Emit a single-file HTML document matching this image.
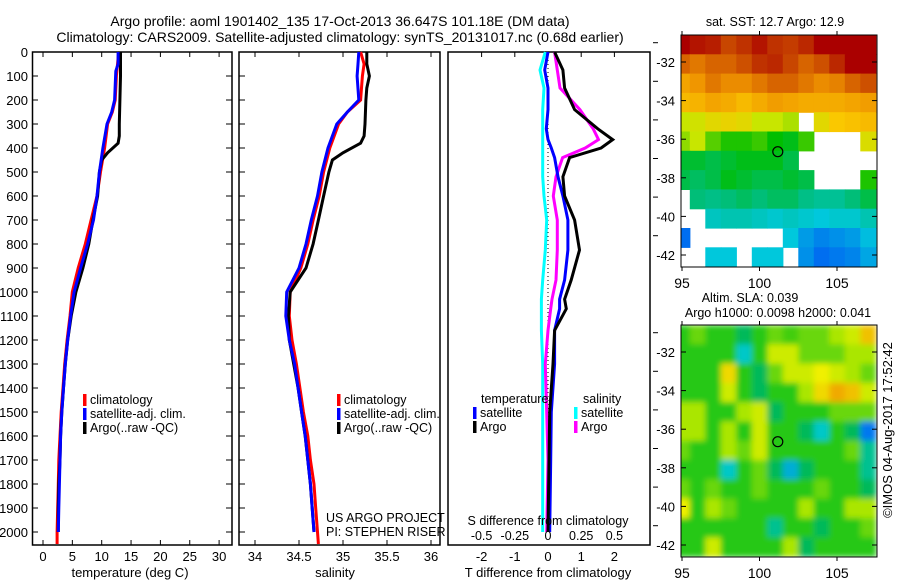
<!DOCTYPE html>
<html><head><meta charset="utf-8">
<style>
html,body{margin:0;padding:0;background:#fff;}
svg{display:block;font-family:"Liberation Sans",sans-serif;}
text{fill:#000;}
</style></head>
<body>
<svg id="fig" width="900" height="580" viewBox="0 0 900 580" xmlns="http://www.w3.org/2000/svg">
<text x="340" y="26" font-size="14" text-anchor="middle">Argo profile: aoml 1901402_135 17-Oct-2013 36.647S 101.18E (DM data)</text>
<text x="340" y="42" font-size="14" text-anchor="middle">Climatology: CARS2009. Satellite-adjusted climatology: synTS_20131017.nc (0.68d earlier)</text>
<g id="p1"></g>
<g id="p2"></g>
<g id="p3"></g>
<g id="m1"></g>
<g id="m2"></g>
<text transform="translate(892,430) rotate(-90)" font-size="13" text-anchor="middle">©IMOS 04-Aug-2017 17:52:42</text>
</svg>
<script>
// ---- profile data ----
const tDepth   = [0,100,200,300,350,380,420,450,500,600,700,800,900,1000,1100,1200,1300,1400,1500,1600,1700,1800,1900,2000];
const tArgo    = [13.2,13.2,13.1,13.0,13.0,12.8,11.0,10.0,9.6,9.3,8.5,7.8,6.8,5.6,4.8,4.2,3.8,3.5,3.2,3.0,2.9,2.7,2.6,2.6];
const cDepth   = [0,100,200,250,300,400,500,600,700,800,900,1000,1100,1200,1300,1400,1500,1600,1700,1800,1900,2000,2050];
const tClim    = [12.9,12.5,12.3,11.8,11.0,10.5,9.8,9.2,8.2,7.2,6.0,5.0,4.6,4.1,3.7,3.4,3.1,2.9,2.7,2.6,2.5,2.4,2.4];
const tSatDepth= [0,50,80,200,250,300,400,500,600,700,800,900,1000,1100,1200,1300,1400,1500,1600,1700,1800,1900,2000];
const tSat     = [12.8,12.8,12.4,12.2,11.7,10.9,10.2,9.6,9.2,8.6,7.6,6.4,5.3,4.7,4.2,3.8,3.5,3.2,3.0,2.9,2.8,2.7,2.6];
const sArgo    = [35.27,35.27,35.30,35.27,35.26,35.25,35.24,35.20,35.00,34.88,34.84,34.78,34.75,34.72,34.66,34.58,34.40,34.38,34.39,34.44,34.49,34.53,34.57,34.60,34.63,34.65,34.67];
const sArgoD   = [0,50,100,150,200,300,350,380,420,450,500,600,650,700,800,900,1000,1100,1200,1300,1400,1500,1600,1700,1800,1900,2000];
const sClim    = [35.20,35.24,35.22,35.20,35.05,34.95,34.85,34.78,34.73,34.66,34.60,34.52,34.40,34.39,34.42,34.47,34.51,34.55,34.60,34.63,34.67,34.69,34.71,34.72];
const sClimD   = [0,50,100,200,250,300,400,500,600,700,800,900,1000,1100,1200,1300,1400,1500,1600,1700,1800,1900,2000,2050];
const sSat     = [35.18,35.17,35.16,35.18,35.05,34.93,34.83,34.76,34.71,34.64,34.58,34.50,34.36,34.35,34.39,34.45,34.49,34.53,34.57,34.60,34.63,34.65,34.67];
const sSatD    = [0,50,100,200,250,300,400,500,600,700,800,900,1000,1100,1200,1300,1400,1500,1600,1700,1800,1900,2000];
// ---- difference data ----
const dDepth   = [0,75,150,240,320,365,400,440,520,600,700,825,950,1030,1070,1160,1300,1500,1700,2000];
const dTArgo   = [0.2,0.45,0.5,0.8,1.5,1.95,1.6,0.65,0.45,0.5,0.8,0.95,0.7,0.5,0.55,0.2,0.15,0.05,0.03,0.0];
const dTSat    = [0,-0.1,0,0,-0.05,0,0.1,0.2,0.3,0.45,0.6,0.6,0.5,0.35,0.35,0.2,0.2,0.1,0.08,0.05];
const dSArgo   = [0.05,0.07,0.09,0.24,0.34,0.38,0.28,0.11,0.06,0.04,0.07,0.07,0.06,0.03,0.02,0,-0.02,-0.01,0,-0.01];
const dSSat    = [-0.02,-0.06,-0.03,-0.04,-0.04,-0.04,-0.04,-0.04,-0.04,-0.03,-0.01,-0.02,-0.04,-0.05,-0.05,-0.05,-0.04,-0.04,-0.04,-0.04];
const depthTicks = [0,100,200,300,400,500,600,700,800,900,1000,1100,1200,1300,1400,1500,1600,1700,1800,1900,2000];
const tTicks = [0,5,10,15,20,25,30];
const sTicks = [34,34.5,35,35.5,36];
const tdTicks = [-2,-1,0,1,2];
const sdTicks = [-0.5,-0.25,0,0.25,0.5];
// ---- map data ----
const mapLons = [95,96,97,98,99,100,101,102,103,104,105,106,107];
const sstGrid = [
[16,15.8,15.7,15.3,15.5,15.8,15.5,15.4,15.6,16,16,16,16],
[15,14.8,15,15,15.2,15.5,15.6,15.3,15,15.2,15.6,16,16],
[14.3,14.5,14.8,14.6,14.6,14.8,15,15,14.8,14.6,14.7,15,15.2],
[14,14.1,14.3,14.2,14,14.2,14.4,14.3,14.2,14.2,14.2,14.3,14.4],
[13.2,13.3,13.5,13.6,13.5,13.2,13.2,13.1,null,13.5,13.8,13.9,14],
[13,13.2,12.8,12.6,12.6,12.7,12.5,12.4,12.7,null,null,null,13.4],
[12.3,12.3,12.2,12.3,12.4,12.4,12.4,12.2,null,null,null,null,null],
[12.2,12.1,12.2,12.4,12.3,12.2,12.2,12.3,12.2,null,null,null,12.6],
[null,12.0,11.9,12.0,12.1,12.0,12.1,12.1,11.9,11.8,11.8,12.0,12.2],
[null,null,11.5,11.6,11.6,11.5,11.4,11.5,11.4,11.3,11.4,11.4,11.6],
[10.4,null,null,null,null,null,null,11.3,10.9,10.7,10.8,10.9,11.2],
[null,null,11.3,11.3,null,11.3,11.3,null,10.8,10.5,10.6,10.7,11.0]];
const slaGrid = [
[0,0.05,0,0,-0.05,0,0.05,0.02,0.05,0.05,0.1,0.15,0.3],
[0,0,0,0,-0.15,0,0.15,0.15,0.05,0.05,0.05,0.1,0.1],
[0,0,0,0.25,0,-0.05,0.05,0.15,0.15,0.2,0.15,0.1,0.05],
[0,0,0,0.15,0,-0.05,0,0,0.1,0.25,0.35,0.3,0.15],
[0.1,0.1,0,0,0.1,0.15,-0.05,0,0,0,0.05,0.05,0.05],
[0.1,0.1,0,0.1,0,0.15,0,0,-0.05,-0.15,0,-0.05,-0.3],
[0.05,0,0,0.1,0.05,0.15,0,0,0,0,0,0.05,-0.1],
[0,0,0,-0.15,0,0.05,-0.05,-0.2,-0.05,0,0,0,-0.1],
[0.05,0,0.05,0,0,0.05,0,0,0,0.05,0,0,-0.05],
[0.2,0,0.1,0.05,0,0,0,0,0.1,0,0,0.1,0.1],
[0,0,0,0,0,0,-0.1,0,0,-0.05,0,0,0.05],
[0,0,0.15,0,0,0,0,0.1,-0.05,0,0,0,0]];
const latTicks = [-32,-34,-36,-38,-40,-42];
const lonTicks = [95,100,105];
const argoLon = 101.18, argoLat = -36.647;

const NS='http://www.w3.org/2000/svg';
function mk(tag, attrs, parent){const e=document.createElementNS(NS,tag);for(const k in attrs)e.setAttribute(k,attrs[k]);parent.appendChild(e);return e;}
function txt(parent,x,y,s,size,anchor){const t=mk('text',{x:x,y:y,'font-size':size,'text-anchor':anchor||'start'},parent);t.textContent=s;return t;}

const Y0=52, YB=545;
const yD = d => Y0 + d*0.24;
function line(parent, xs, ds, xf, color, w){
  const pts = xs.map((v,i)=>xf(v).toFixed(1)+','+yD(ds[i]).toFixed(1)).join(' ');
  return mk('polyline',{points:pts,fill:'none',stroke:color,'stroke-width':w||3,'stroke-linejoin':'miter'},parent);
}
function box(parent,x0,x1){return mk('rect',{x:x0,y:Y0,width:x1-x0,height:YB-Y0,fill:'none',stroke:'#000','stroke-width':1.5},parent);}

// Panel 1
const p1=document.getElementById('p1');
const xT = v => 43 + v*5.87;
box(p1,32.5,232);
depthTicks.forEach(d=>{
  mk('line',{x1:32.5,x2:38,y1:yD(d),y2:yD(d),stroke:'#000'},p1);
  mk('line',{x1:226,x2:232,y1:yD(d),y2:yD(d),stroke:'#000'},p1);
  const t=txt(p1,28,yD(d)+5,String(d),13,'end');
  
  
});
tTicks.forEach(v=>{
  mk('line',{x1:xT(v),x2:xT(v),y1:YB,y2:YB-5,stroke:'#000'},p1);
  mk('line',{x1:xT(v),x2:xT(v),y1:Y0,y2:Y0+5,stroke:'#000'},p1);
  const t=txt(p1,xT(v),561,String(v),13,'middle');
  
  
});
txt(p1,130,577,'temperature (deg C)',13,'middle');
const l1a=line(p1,tClim,cDepth,xT,'#f00');


const l1b=line(p1,tArgo,tDepth,xT,'#000');


const l1c=line(p1,tSat,tSatDepth,xT,'#00f');


function legend(parent,x,y,items){
  items.forEach((it,i)=>{
    const g=mk('g',{},parent);
    
    
    mk('rect',{x:x,y:y+i*14-10,width:3.5,height:12,fill:it[1]},g);
    txt(g,x+7,y+i*14,it[0],12.5);
  });
}
legend(p1,83,404,[['climatology','#f00'],['satellite-adj. clim.','#00f'],['Argo(..raw -QC)','#000']]);

// Panel 2
const p2=document.getElementById('p2');
const xS = v => 255 + (v-34)*88;
box(p2,239,440);
depthTicks.forEach(d=>{mk('line',{x1:239,x2:245,y1:yD(d),y2:yD(d),stroke:'#000'},p2);});
sTicks.forEach(v=>{
  mk('line',{x1:xS(v),x2:xS(v),y1:YB,y2:YB-5,stroke:'#000'},p2);
  mk('line',{x1:xS(v),x2:xS(v),y1:Y0,y2:Y0+5,stroke:'#000'},p2);
  const t=txt(p2,xS(v),561,String(v),13,'middle');
  
  
});
txt(p2,335,577,'salinity',13,'middle');
const l2a=line(p2,sClim,sClimD,xS,'#f00');


const l2b=line(p2,sArgo,sArgoD,xS,'#000');


const l2c=line(p2,sSat,sSatD,xS,'#00f');


legend(p2,337,404,[['climatology','#f00'],['satellite-adj. clim.','#00f'],['Argo(..raw -QC)','#000']]);
txt(p2,326,522,'US ARGO PROJECT',12.5);
txt(p2,326,536,'PI: STEPHEN RISER',12.5);

// Panel 3
const p3=document.getElementById('p3');
const xTd = v => 548 + v*33.2;
const xSd = v => 548 + v*132.8;
box(p3,448,650);
mk('line',{x1:548,x2:548,y1:Y0,y2:yD(2000),stroke:'#000','stroke-dasharray':'1,3'},p3);
tdTicks.forEach(v=>{
  mk('line',{x1:xTd(v),x2:xTd(v),y1:Y0,y2:Y0+5,stroke:'#000'},p3);
  const t=txt(p3,xTd(v),561,String(v),13,'middle');
  
  
});
txt(p3,548,577,'T difference from climatology',13,'middle');
const l3a=line(p3,dSSat,dDepth,xSd,'#0ff');


const l3b=line(p3,dSArgo,dDepth,xSd,'#f0f');


const l3c=line(p3,dTSat,dDepth,xTd,'#00f');


const l3d=line(p3,dTArgo,dDepth,xTd,'#000');


txt(p3,548,525,'S difference from climatology',12.5,'middle');
sdTicks.forEach(v=>{
  const t=txt(p3,xSd(v),540,String(v),12.5,'middle');
  
  
});
txt(p3,481,403,'temperature',12.5);
txt(p3,583,403,'salinity',12.5);
legend(p3,473,417,[['satellite','#00f'],['Argo','#000']]);
legend(p3,574,417,[['satellite','#0ff'],['Argo','#f0f']]);

// Maps
const MX0=681, MX1=877;
const lonX = lon => 682 + (lon-95)*15.5;
const sstStops=[[10.5,[0,110,240]],[11.3,[0,200,220]],[12.0,[0,190,120]],[12.5,[0,190,0]],[13.2,[200,230,0]],[13.8,[250,200,0]],[14.5,[240,150,0]],[15.3,[200,70,0]],[16,[170,0,0]]];
const slaStops=[[-0.3,[0,120,240]],[-0.15,[0,200,200]],[-0.05,[0,185,90]],[0,[40,200,20]],[0.1,[170,230,0]],[0.2,[240,240,0]],[0.35,[240,170,0]]];
function cmap(stops,v){
  if(v<=stops[0][0])return stops[0][1];
  for(let i=1;i<stops.length;i++){if(v<=stops[i][0]){const a=stops[i-1],b=stops[i];const f=(v-a[0])/(b[0]-a[0]);return a[1].map((c,k)=>Math.round(c+(b[1][k]-c)*f));}}
  return stops[stops.length-1][1];
}
function drawMap(gid,top,bottom,latRef,grid,stops,blur,titles){
  const g=document.getElementById(gid);
  const latY = lat => latRef + (-32-lat)*19.3;
  const cid='clip'+gid;
  const cp=mk('clipPath',{id:cid},g);
  mk('rect',{x:MX0,y:top,width:MX1-MX0,height:bottom-top},cp);
  const cells=mk('g',{'clip-path':'url(#'+cid+')'},g);
  let inner=cells;
  if(blur){
    const f=mk('filter',{id:'bl'+gid,x:'-10%',y:'-10%',width:'120%',height:'120%'},g);
    mk('feGaussianBlur',{stdDeviation:blur,edgeMode:'duplicate'},f);
    inner=mk('g',{filter:'url(#bl'+gid+')'},cells);
  }
  grid.forEach((row,r)=>{
    const lat=-30.6-r;
    row.forEach((v,c)=>{
      if(v===null)return;
      const col=cmap(stops,v);
      const x=lonX(mapLons[c]-0.5);
      const rc=mk('rect',{x:x.toFixed(1),y:latY(lat).toFixed(1),width:(15.5+0.6).toFixed(1),height:(19.3+0.6).toFixed(1),fill:'rgb('+col.join(',')+')'},inner);
      
      
    });
  });
  mk('rect',{x:MX0,y:top,width:MX1-MX0,height:bottom-top,fill:'none',stroke:'#000','stroke-width':1},g);
  latTicks.forEach(l=>{
    mk('line',{x1:MX0,x2:MX0+5,y1:latY(l),y2:latY(l),stroke:'#000'},g);
    mk('line',{x1:MX1,x2:MX1-5,y1:latY(l),y2:latY(l),stroke:'#000'},g);
    mk('line',{x1:653,x2:658,y1:latY(l)-19.3,y2:latY(l)-19.3,stroke:'#000'},g);
    const t=txt(g,675,latY(l)+5,String(l),13,'end');
    
    
  });
  lonTicks.forEach(l=>{
    mk('line',{x1:lonX(l),x2:lonX(l),y1:top,y2:top-4,stroke:'#000'},g);
    mk('line',{x1:lonX(l),x2:lonX(l),y1:bottom,y2:bottom+4,stroke:'#000'},g);
    const t=txt(g,lonX(l),bottom+21,String(l),14,'middle');
    
    
  });
  const c=mk('circle',{cx:lonX(argoLon),cy:latY(argoLat),r:5,fill:'none',stroke:'#000','stroke-width':1.2},g);
  
  
  titles.forEach(tt=>{const t=txt(g,tt[0],tt[1],tt[2],12.5,'middle');
    
    });
}
drawMap('m1',35,267,62,sstGrid,sstStops,0,[[775,26,'sat. SST: 12.7 Argo: 12.9']]);
drawMap('m2',325,557,352,slaGrid,slaStops,3,[[750,302,'Altim. SLA: 0.039'],[778,317,'Argo h1000: 0.0098 h2000: 0.041']]);
</script>
</body></html>
